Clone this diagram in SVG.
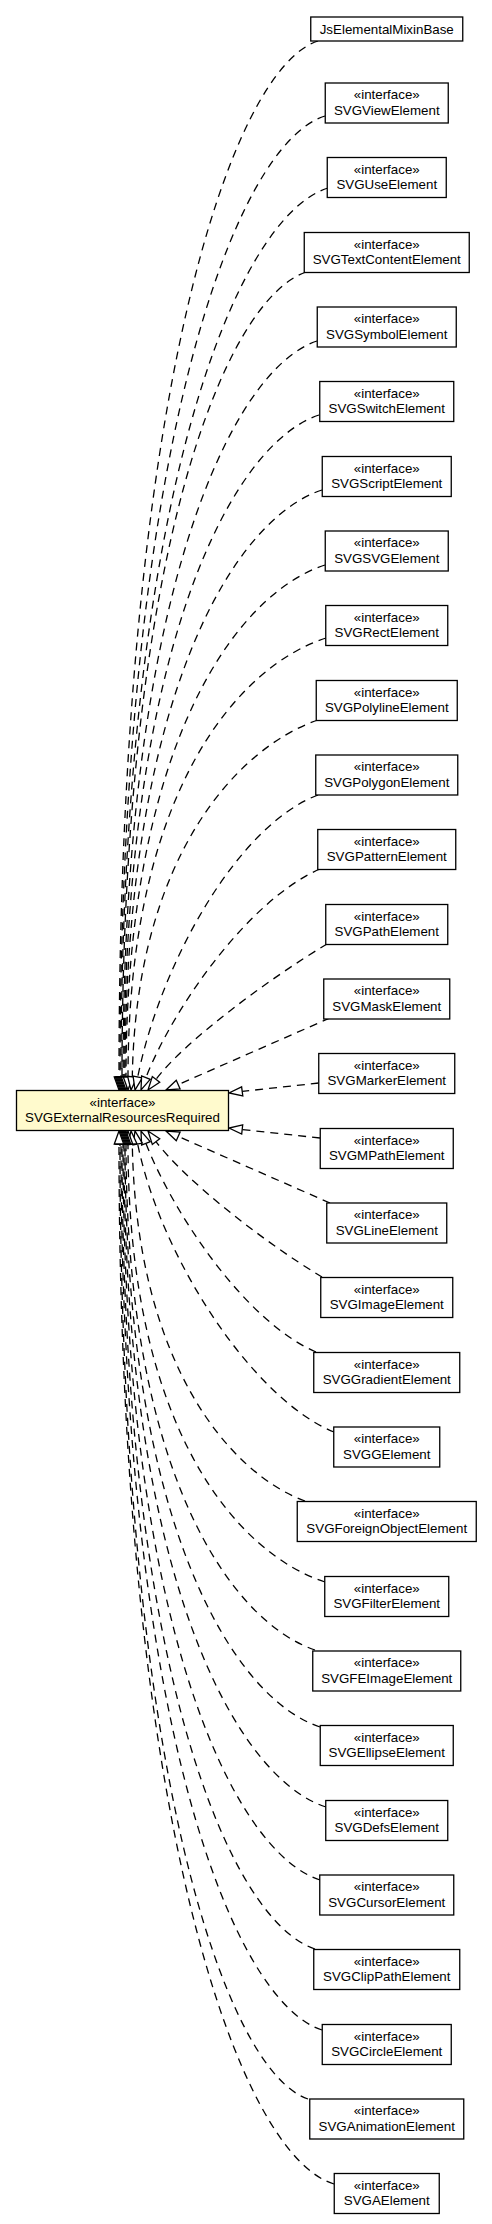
<svg xmlns="http://www.w3.org/2000/svg" width="492" height="2224" viewBox="0 0 492 2224">
<style>
.box{fill:#fff;stroke:#000;stroke-width:1.3}
.main{fill:#FFFACD;stroke:#000;stroke-width:1.3}
text{font-family:"Liberation Sans",Arial,Helvetica,sans-serif;font-size:13.33px;fill:#000;text-anchor:middle}
.e{fill:none;stroke:#000;stroke-width:1.3;stroke-dasharray:8,6}
.a{fill:#fff;stroke:#000;stroke-width:1.3}
</style>
<rect width="492" height="2224" fill="#fff"/>
<g id="edges">
<g id="e1"><path class="e" d="M318,41 C230.4,69 119,399.5 119,1077"/><polygon class="a" points="114.3,1077 119,1090 123.7,1077"/></g>
<g id="e2"><path class="e" d="M325,116 C234.8,144 120,448.6 120,1077"/><polygon class="a" points="115.3,1077 120,1090 124.7,1077"/></g>
<g id="e3"><path class="e" d="M328,188 C236.9,216 121,495.7 121,1077"/><polygon class="a" points="116.3,1077 121,1090 125.7,1077"/></g>
<g id="e4"><path class="e" d="M306,272 C225,300 122,550.8 122,1077"/><polygon class="a" points="117.3,1077 122,1090 126.7,1077"/></g>
<g id="e5"><path class="e" d="M317,341 C231.6,369 123,596 123,1077"/><polygon class="a" points="118.3,1077 123,1090 127.7,1077"/></g>
<g id="e6"><path class="e" d="M319,415 C233.2,443 124,644.4 124,1077"/><polygon class="a" points="119.3,1077 124,1090 128.7,1077"/></g>
<g id="e7"><path class="e" d="M322,490 C235.3,518 125,693.6 125,1077"/><polygon class="a" points="120.3,1077 125,1090 129.7,1077"/></g>
<g id="e8"><path class="e" d="M325,565 C237.4,593 126,742.7 126,1077"/><polygon class="a" points="121.3,1077 126,1090 130.7,1077"/></g>
<g id="e9"><path class="e" d="M326,638 C238.9,666 128,790.5 128,1077"/><polygon class="a" points="123.3,1077 128,1090 132.7,1077"/></g>
<g id="e10"><path class="e" d="M318,720 C235.7,748 136,860 132.3,1076.8"/><polygon class="a" points="127.65,1076.3 131,1090 136.95,1077.3"/></g>
<g id="e11"><path class="e" d="M318,795 C238,825 161,962 137.7,1077"/><polygon class="a" points="133.1,1076.1 135,1090 142.3,1077.9"/></g>
<g id="e12"><path class="e" d="M320,869 C250,899 174,1006 145.9,1077.6"/><polygon class="a" points="141.6,1075.9 141,1090 150.2,1079.3"/></g>
<g id="e13"><path class="e" d="M327,944 C267,980 184,1042 156,1079.4"/><polygon class="a" points="152.3,1076.6 148,1090 159.7,1082.2"/></g>
<g id="e14"><path class="e" d="M330,1018 L178.2,1084.6"/><polygon class="a" points="176.3,1080.3 166,1090 180.1,1088.9"/></g>
<g id="e15"><path class="e" d="M318.75,1083 L242.2,1091.4"/><polygon class="a" points="241.6,1086.8 229,1093 242.8,1096"/></g>
<g id="e16"><path class="e" d="M320,1138 L242.2,1129.5"/><polygon class="a" points="242.7,1124.9 229,1128 241.7,1134.1"/></g>
<g id="e17"><path class="e" d="M330,1203 L178.2,1136.4"/><polygon class="a" points="176.3,1140.7 166,1131 180.1,1132.1"/></g>
<g id="e18"><path class="e" d="M322,1277 C262,1241 184,1179 156,1141.6"/><polygon class="a" points="152.3,1144.4 148,1131 159.7,1138.8"/></g>
<g id="e19"><path class="e" d="M316,1352 C246,1322 174,1215 145.9,1143.4"/><polygon class="a" points="141.6,1145.1 141,1131 150.2,1141.7"/></g>
<g id="e20"><path class="e" d="M334,1432 C254,1400 161,1259 137.7,1144"/><polygon class="a" points="133.1,1144.9 135,1131 142.3,1143.1"/></g>
<g id="e21"><path class="e" d="M305,1501 C228.4,1473 136,1361 132.3,1144.2"/><polygon class="a" points="127.65,1144.7 131,1131 136.95,1143.7"/></g>
<g id="e22"><path class="e" d="M325,1582 C238.3,1554 128,1429.9 128,1144"/><polygon class="a" points="123.3,1144 128,1131 132.7,1144"/></g>
<g id="e23"><path class="e" d="M315,1650 C231.8,1622 126,1474.4 126,1144"/><polygon class="a" points="121.3,1144 126,1131 130.7,1144"/></g>
<g id="e24"><path class="e" d="M320,1727 C234.2,1699 125,1524.8 125,1144"/><polygon class="a" points="120.3,1144 125,1131 129.7,1144"/></g>
<g id="e25"><path class="e" d="M326,1807 C237.1,1779 124,1577.2 124,1144"/><polygon class="a" points="119.3,1144 124,1131 128.7,1144"/></g>
<g id="e26"><path class="e" d="M320,1880 C233.3,1852 123,1625 123,1144"/><polygon class="a" points="118.3,1144 123,1131 127.7,1144"/></g>
<g id="e27"><path class="e" d="M315,1949 C230.1,1921 122,1670.2 122,1144"/><polygon class="a" points="117.3,1144 122,1131 126.7,1144"/></g>
<g id="e28"><path class="e" d="M322,2030 C233.6,2002 121,1723.3 121,1144"/><polygon class="a" points="116.3,1144 121,1131 125.7,1144"/></g>
<g id="e29"><path class="e" d="M308,2099 C225.3,2071 120,1768.5 120,1144"/><polygon class="a" points="115.3,1144 120,1131 124.7,1144"/></g>
<g id="e30"><path class="e" d="M334,2184 C239.4,2156 119,1824.2 119,1144"/><polygon class="a" points="114.3,1144 119,1131 123.7,1144"/></g>
</g>
<g id="n_SVGExternalResourcesRequired"><rect class="main" x="16.5" y="1090.5" width="212" height="40"/><text x="122.5" y="1106.5">«interface»</text><text x="122.5" y="1122">SVGExternalResourcesRequired</text></g>
<g id="n_JsElementalMixinBase"><rect class="box" x="310.75" y="17" width="152" height="24"/><text x="386.75" y="34">JsElementalMixinBase</text></g>
<g id="n_SVGViewElement"><rect class="box" x="325.25" y="83" width="123" height="40"/><text x="386.75" y="99.3">«interface»</text><text x="386.75" y="114.8">SVGViewElement</text></g>
<g id="n_SVGUseElement"><rect class="box" x="327.25" y="157.5" width="119" height="40"/><text x="386.75" y="173.8">«interface»</text><text x="386.75" y="189.3">SVGUseElement</text></g>
<g id="n_SVGTextContentElement"><rect class="box" x="304.25" y="232.5" width="165" height="40"/><text x="386.75" y="248.8">«interface»</text><text x="386.75" y="264.3">SVGTextContentElement</text></g>
<g id="n_SVGSymbolElement"><rect class="box" x="317.25" y="307" width="139" height="40"/><text x="386.75" y="323.3">«interface»</text><text x="386.75" y="338.8">SVGSymbolElement</text></g>
<g id="n_SVGSwitchElement"><rect class="box" x="319.75" y="381.5" width="134" height="40"/><text x="386.75" y="397.8">«interface»</text><text x="386.75" y="413.3">SVGSwitchElement</text></g>
<g id="n_SVGScriptElement"><rect class="box" x="322.25" y="456.5" width="129" height="40"/><text x="386.75" y="472.8">«interface»</text><text x="386.75" y="488.3">SVGScriptElement</text></g>
<g id="n_SVGSVGElement"><rect class="box" x="325.25" y="531" width="123" height="40"/><text x="386.75" y="547.3">«interface»</text><text x="386.75" y="562.8">SVGSVGElement</text></g>
<g id="n_SVGRectElement"><rect class="box" x="325.75" y="605.5" width="122" height="40"/><text x="386.75" y="621.8">«interface»</text><text x="386.75" y="637.3">SVGRectElement</text></g>
<g id="n_SVGPolylineElement"><rect class="box" x="316.25" y="680.5" width="141" height="40"/><text x="386.75" y="696.8">«interface»</text><text x="386.75" y="712.3">SVGPolylineElement</text></g>
<g id="n_SVGPolygonElement"><rect class="box" x="315.75" y="755" width="142" height="40"/><text x="386.75" y="771.3">«interface»</text><text x="386.75" y="786.8">SVGPolygonElement</text></g>
<g id="n_SVGPatternElement"><rect class="box" x="317.75" y="829.5" width="138" height="40"/><text x="386.75" y="845.8">«interface»</text><text x="386.75" y="861.3">SVGPatternElement</text></g>
<g id="n_SVGPathElement"><rect class="box" x="325.75" y="904.5" width="122" height="40"/><text x="386.75" y="920.8">«interface»</text><text x="386.75" y="936.3">SVGPathElement</text></g>
<g id="n_SVGMaskElement"><rect class="box" x="323.75" y="979" width="126" height="40"/><text x="386.75" y="995.3">«interface»</text><text x="386.75" y="1010.8">SVGMaskElement</text></g>
<g id="n_SVGMarkerElement"><rect class="box" x="318.75" y="1053.5" width="136" height="40"/><text x="386.75" y="1069.8">«interface»</text><text x="386.75" y="1085.3">SVGMarkerElement</text></g>
<g id="n_SVGMPathElement"><rect class="box" x="320.25" y="1128.5" width="133" height="40"/><text x="386.75" y="1144.8">«interface»</text><text x="386.75" y="1160.3">SVGMPathElement</text></g>
<g id="n_SVGLineElement"><rect class="box" x="326.75" y="1203" width="120" height="40"/><text x="386.75" y="1219.3">«interface»</text><text x="386.75" y="1234.8">SVGLineElement</text></g>
<g id="n_SVGImageElement"><rect class="box" x="320.75" y="1277.5" width="132" height="40"/><text x="386.75" y="1293.8">«interface»</text><text x="386.75" y="1309.3">SVGImageElement</text></g>
<g id="n_SVGGradientElement"><rect class="box" x="313.75" y="1352.5" width="146" height="40"/><text x="386.75" y="1368.8">«interface»</text><text x="386.75" y="1384.3">SVGGradientElement</text></g>
<g id="n_SVGGElement"><rect class="box" x="333.75" y="1427" width="106" height="40"/><text x="386.75" y="1443.3">«interface»</text><text x="386.75" y="1458.8">SVGGElement</text></g>
<g id="n_SVGForeignObjectElement"><rect class="box" x="297.25" y="1501.5" width="179" height="40"/><text x="386.75" y="1517.8">«interface»</text><text x="386.75" y="1533.3">SVGForeignObjectElement</text></g>
<g id="n_SVGFilterElement"><rect class="box" x="324.75" y="1576.5" width="124" height="40"/><text x="386.75" y="1592.8">«interface»</text><text x="386.75" y="1608.3">SVGFilterElement</text></g>
<g id="n_SVGFEImageElement"><rect class="box" x="312.75" y="1651" width="148" height="40"/><text x="386.75" y="1667.3">«interface»</text><text x="386.75" y="1682.8">SVGFEImageElement</text></g>
<g id="n_SVGEllipseElement"><rect class="box" x="320.25" y="1725.5" width="133" height="40"/><text x="386.75" y="1741.8">«interface»</text><text x="386.75" y="1757.3">SVGEllipseElement</text></g>
<g id="n_SVGDefsElement"><rect class="box" x="325.75" y="1800.5" width="122" height="40"/><text x="386.75" y="1816.8">«interface»</text><text x="386.75" y="1832.3">SVGDefsElement</text></g>
<g id="n_SVGCursorElement"><rect class="box" x="319.75" y="1875" width="134" height="40"/><text x="386.75" y="1891.3">«interface»</text><text x="386.75" y="1906.8">SVGCursorElement</text></g>
<g id="n_SVGClipPathElement"><rect class="box" x="313.75" y="1949.5" width="146" height="40"/><text x="386.75" y="1965.8">«interface»</text><text x="386.75" y="1981.3">SVGClipPathElement</text></g>
<g id="n_SVGCircleElement"><rect class="box" x="322.25" y="2024.5" width="129" height="40"/><text x="386.75" y="2040.8">«interface»</text><text x="386.75" y="2056.3">SVGCircleElement</text></g>
<g id="n_SVGAnimationElement"><rect class="box" x="309.75" y="2099" width="154" height="40"/><text x="386.75" y="2115.3">«interface»</text><text x="386.75" y="2130.8">SVGAnimationElement</text></g>
<g id="n_SVGAElement"><rect class="box" x="334.25" y="2173.5" width="105" height="40"/><text x="386.75" y="2189.8">«interface»</text><text x="386.75" y="2205.3">SVGAElement</text></g>
</svg>
